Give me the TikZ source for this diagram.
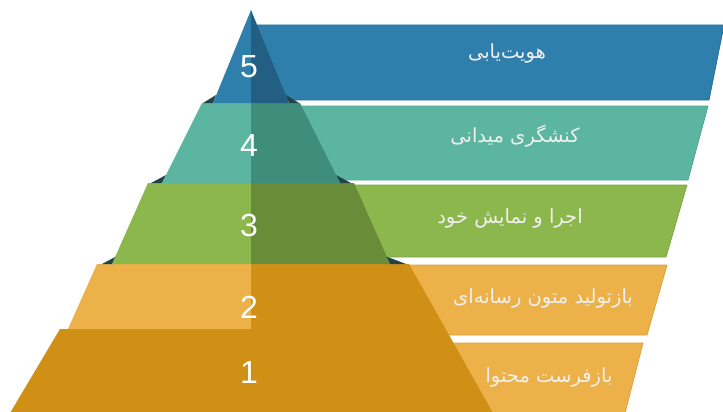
\documentclass[tikz,border=0pt]{standalone}
\usepackage{fontspec}
\setmainfont{Liberation Sans}
\newfontfamily\arabicfont[Script=Arabic]{DejaVu Sans}
\TeXXeTstate=1
\definecolor{blueL}{HTML}{2F7FAD}
\definecolor{blueD}{HTML}{225F82}
\definecolor{blueE}{HTML}{2A6E99}
\definecolor{tealL}{HTML}{5CB5A0}
\definecolor{tealD}{HTML}{3F8D7B}
\definecolor{tealE}{HTML}{52A690}
\definecolor{greenL}{HTML}{8BB74C}
\definecolor{greenD}{HTML}{688C37}
\definecolor{greenE}{HTML}{7DA842}
\definecolor{orL}{HTML}{ECB148}
\definecolor{orD}{HTML}{D09016}
\definecolor{orE}{HTML}{E0A23A}
\definecolor{wedge}{HTML}{22434A}
\tikzset{
  numlabel/.style={text=white,font=\fontsize{32}{36}\selectfont,inner sep=0pt},
  bandlabel/.style={text=white!94!black,font=\arabicfont\fontsize{19.5}{22}\selectfont,inner sep=0pt},
  bandedge/.style={line width=0.8pt}
}
\begin{document}
\begin{tikzpicture}[x=1pt,y=-1pt]
\useasboundingbox (0,0) rectangle (723,412);
% bands
\filldraw[fill=blueL,draw=blueE,bandedge] (251,25) -- (724,25) -- (709,100) -- (251,100) -- cycle;
\filldraw[fill=tealL,draw=tealE,bandedge] (251,106) -- (708,106) -- (688,180) -- (251,180) -- cycle;
\filldraw[fill=greenL,draw=greenE,bandedge] (251,185) -- (687,185) -- (666,257) -- (251,257) -- cycle;
\filldraw[fill=orL,draw=orE,bandedge] (251,265) -- (667,265) -- (647,335) -- (251,335) -- cycle;
\filldraw[fill=orL,draw=orE,bandedge] (251,343) -- (643,343) -- (625,413) -- (251,413) -- cycle;
% tier 1 and dark right half of tiers 1-2
\fill[orD] (251,329) -- (60,329) -- (10,413) -- (251,413) -- cycle;
\fill[orD] (251,264) -- (409,264) -- (493,413) -- (251,413) -- cycle;
% tier 2 light
\fill[orL] (251,264) -- (97,264) -- (68,329) -- (251,329) -- cycle;
% tier 3
\fill[wedge] (102,264) -- (113,264) -- (117,256) -- cycle;
\fill[wedge] (406,264) -- (389,264) -- (385,256) -- cycle;
\fill[greenL] (251,183) -- (148,183) -- (112,264) -- (251,264) -- cycle;
\fill[greenD] (251,183) -- (354,183) -- (390,264) -- (251,264) -- cycle;
% tier 4
\fill[wedge] (151,183) -- (162,183) -- (166,175) -- cycle;
\fill[wedge] (351,183) -- (340,183) -- (336,175) -- cycle;
\fill[tealL] (251,103) -- (202,103) -- (162,183) -- (251,183) -- cycle;
\fill[tealD] (251,103) -- (300,103) -- (340,183) -- (251,183) -- cycle;
% tier 5
\fill[wedge] (203,103) -- (213,103) -- (216,95) -- cycle;
\fill[wedge] (299,103) -- (289,103) -- (286,95) -- cycle;
\fill[blueL] (251,10) -- (213,103) -- (251,103) -- cycle;
\fill[blueD] (251,10) -- (289,103) -- (251,103) -- cycle;
% numbers
\node[numlabel] (n5) at (249,66.5) {5};
\node[numlabel] (n4) at (249,145) {4};
\node[numlabel] (n3) at (249,225) {3};
\node[numlabel] (n2) at (249,307) {2};
\node[numlabel] (n1) at (249,372.5) {1};
% labels
\node[bandlabel] (t5) at (507,53) {\beginR هویت‌یابی\endR};
\node[bandlabel] (t4) at (515,136) {\beginR کنشگری میدانی\endR};
\node[bandlabel] (t3) at (510,218) {\beginR اجرا و نمایش خود\endR};
\node[bandlabel] (t2) at (543,298) {\beginR بازتولید متون رسانه‌ای\endR};
\node[bandlabel] (t1) at (549,377) {\beginR بازفرست محتوا\endR};
\end{tikzpicture}
\end{document}
